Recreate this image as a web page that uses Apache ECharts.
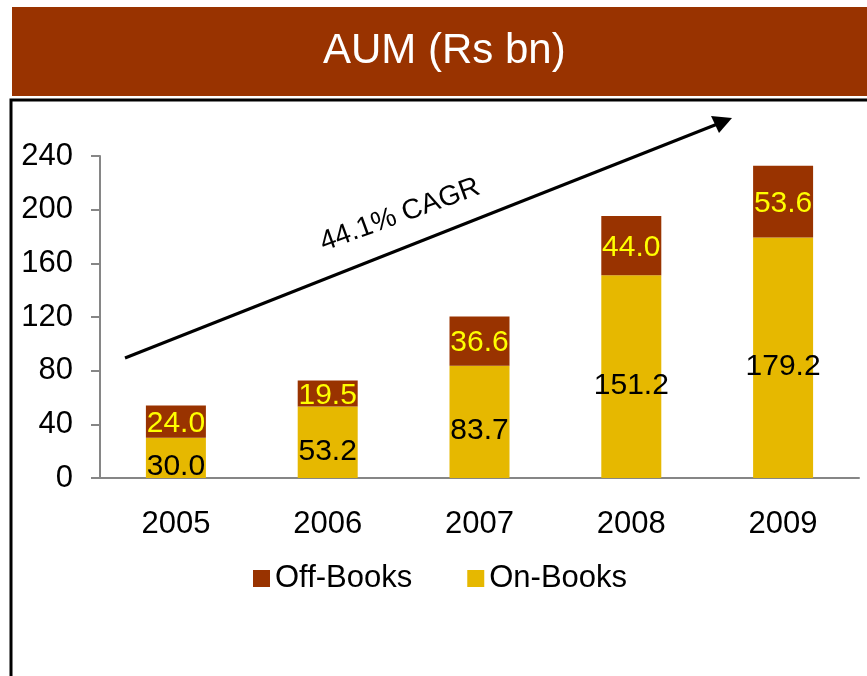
<!DOCTYPE html>
<html>
<head>
    <meta charset="UTF-8">
    <title>AUM (Rs bn)</title>
    <style>
        body { margin: 0; background: #fff; }
    </style>
</head>
<body>
    <div id="main" style="width: 867px;height:676px;"></div>
    <script src="https://cdn.jsdelivr.net/npm/echarts@6/dist/echarts.min.js"></script>
    <script type="text/javascript">
        // data
        var years = ['2005', '2006', '2007', '2008', '2009'];
        var onBooks = [30.0, 53.2, 83.7, 151.2, 179.2];
        var offBooks = [24.0, 19.5, 36.6, 44.0, 53.6];
        var cagrText = '44.1% CAGR';

        var font = '"Liberation Sans", Arial, sans-serif';
        var myChart = echarts.init(document.getElementById('main'));

        var option = {
            animation: false,
            title: {
                text: 'AUM (Rs bn)',
                left: 318,
                top: 25,
                textStyle: { color: '#fff', fontSize: 42, fontWeight: 'normal', fontFamily: font }
            },
            legend: {
                data: ['Off-Books', 'On-Books'],
                left: 248,
                top: 558,
                itemWidth: 17,
                itemHeight: 17,
                itemGap: 55,
                icon: 'rect',
                textStyle: { color: '#000', fontSize: 31, fontFamily: font }
            },
            grid: { left: 100, right: 8, top: 156, bottom: 198 },
            xAxis: {
                type: 'category',
                data: years,
                axisLine: { lineStyle: { color: '#868686', width: 2 } },
                axisTick: { length: 9, lineStyle: { color: '#868686', width: 2 } },
                axisLabel: { color: '#000', fontSize: 31, fontFamily: font, margin: 31 }
            },
            yAxis: {
                type: 'value',
                min: 0,
                max: 240,
                interval: 40,
                splitLine: { show: false },
                axisLine: { show: true, lineStyle: { color: '#868686', width: 2 } },
                axisTick: { show: true, length: 9, lineStyle: { color: '#868686', width: 2 } },
                axisLabel: { color: '#000', fontSize: 31, fontFamily: font, margin: 27 }
            },
            series: [
                {
                    name: 'On-Books',
                    type: 'bar',
                    stack: 'aum',
                    barWidth: 60,
                    data: onBooks,
                    itemStyle: { color: '#E6B800' },
                    label: {
                        show: true,
                        position: 'inside',
                        offset: [0, 9],
                        color: '#000',
                        fontSize: 30,
                        fontFamily: font,
                        formatter: function (p) { return p.value.toFixed(1); }
                    }
                },
                {
                    name: 'Off-Books',
                    type: 'bar',
                    stack: 'aum',
                    barWidth: 60,
                    data: offBooks,
                    itemStyle: { color: '#993300' },
                    label: {
                        show: true,
                        position: 'inside',
                        offset: [0, 2],
                        color: '#FFFF00',
                        fontSize: 30,
                        fontFamily: font,
                        formatter: function (p) { return p.value.toFixed(1); }
                    }
                }
            ],
            graphic: [
                // title banner and frame
                { type: 'rect', z: -10, shape: { x: 12, y: 7, width: 860, height: 89 }, style: { fill: '#993300' } },
                { type: 'rect', z: -10, shape: { x: 11, y: 100, width: 870, height: 600 }, style: { fill: null, stroke: '#000', lineWidth: 3 } },
                // growth arrow
                { type: 'line', shape: { x1: 125, y1: 358, x2: 720, y2: 123 }, style: { stroke: '#000', lineWidth: 3 } },
                { type: 'polygon', shape: { points: [[732, 118], [711, 116], [719, 133]] }, style: { fill: '#000' } },
                {
                    type: 'text',
                    x: 400, y: 215,
                    rotation: 20 * Math.PI / 180,
                    style: {
                        text: cagrText,
                        fill: '#000',
                        font: '28px ' + font,
                        align: 'center',
                        verticalAlign: 'middle'
                    }
                }
            ]
        };

        myChart.setOption(option);
    </script>
</body>
</html>
